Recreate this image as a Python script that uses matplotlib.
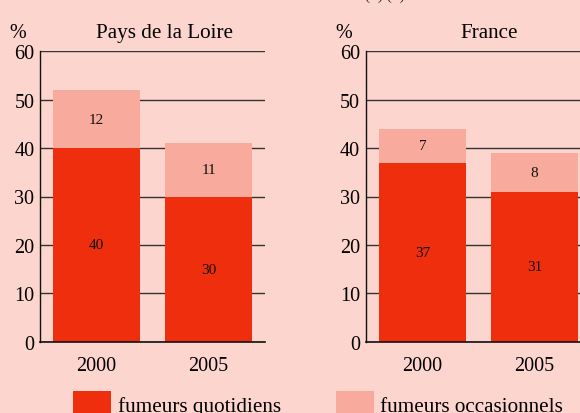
import matplotlib
matplotlib.use("Agg")
import matplotlib.pyplot as plt
from matplotlib.patches import Rectangle

regions = ["Pays de la Loire", "France"]
years = ["2000", "2005"]
quotidiens = {"Pays de la Loire": [40, 30], "France": [37, 31]}
occasionnels = {"Pays de la Loire": [12, 11], "France": [7, 8]}
legend_labels = ["fumeurs quotidiens", "fumeurs occasionnels"]
yticks = [0, 10, 20, 30, 40, 50, 60]

BG = "#FCD5CE"
DARK = "#EE2E0D"
LIGHT = "#F8AA9C"
SERIF = ["Liberation Serif", "DejaVu Serif"]

plt.rcParams["font.family"] = SERIF

W, H = 580, 414
fig = plt.figure(figsize=(W / 100, H / 100), dpi=100, facecolor=BG)

def px(x0, y_top, w, h):
    return [x0 / W, 1 - (y_top + h) / H, w / W, h / H]

axes_left_px = [40, 365.7]
for reg, xl in zip(regions, axes_left_px):
    ax = fig.add_axes(px(xl, 52.3, 225, 290.4))
    ax.set_facecolor(BG)
    xs = list(range(len(years)))
    q = quotidiens[reg]
    o = occasionnels[reg]
    ax.bar(xs, q, width=0.775, color=DARK, zorder=3, linewidth=0)
    ax.bar(xs, o, bottom=q, width=0.775, color=LIGHT, zorder=3, linewidth=0)
    for x, qv, ov in zip(xs, q, o):
        ax.text(x, qv / 2, str(qv), ha="center", va="center", fontsize=11, color="#111111", zorder=4)
        ax.text(x, qv + ov / 2, str(ov), ha="center", va="center", fontsize=11, color="#111111", zorder=4)
    ax.set_xlim(-0.506, 1.503)
    ax.set_ylim(0, 60)
    ax.set_yticks(yticks)
    ax.set_yticklabels([str(t) for t in yticks], fontsize=14.5)
    ax.set_xticks(xs)
    ax.set_xticklabels(years, fontsize=14.5)
    ax.tick_params(axis="y", length=0, pad=4)
    ax.tick_params(axis="x", length=0, pad=10)
    ax.yaxis.grid(True, color="#333333", linewidth=1.0, zorder=1)
    ax.set_axisbelow(True)
    for s in ["top", "right"]:
        ax.spines[s].set_visible(False)
    ax.spines["left"].set_color("#111111")
    ax.spines["bottom"].set_color("#111111")
    ax.spines["left"].set_linewidth(1.0)
    ax.spines["bottom"].set_linewidth(1.2)
    ax.spines["bottom"].set_zorder(5)

# titles and % labels
fig.text(164 / W, 1 - 38 / H, regions[0], ha="center", va="baseline", fontsize=15.2)
fig.text(489 / W, 1 - 38 / H, regions[1], ha="center", va="baseline", fontsize=15.2)
fig.text(18 / W, 1 - 38 / H, "%", ha="center", va="baseline", fontsize=14.5)
fig.text(344 / W, 1 - 38 / H, "%", ha="center", va="baseline", fontsize=14.5)
fig.text(365 / W, 1 - 0 / H, "(1) (2)", ha="left", va="baseline", fontsize=11, color="#333333")

# legend
for (x0, tx), lab, col in zip([(73, 118), (336, 380)], legend_labels, [DARK, LIGHT]):
    fig.patches.append(Rectangle((x0 / W, 0), 38 / W, (414 - 392) / H,
                                 transform=fig.transFigure, facecolor=col, edgecolor="none"))
    fig.text(tx / W, 1 - 412 / H, lab, ha="left", va="baseline", fontsize=15.2)

fig.savefig("out.png", dpi=100, facecolor=BG)
